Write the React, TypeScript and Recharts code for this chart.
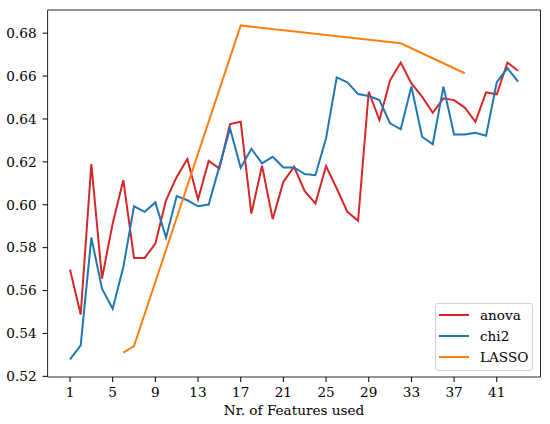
import React from 'react';
import {
  LineChart,
  Line,
  XAxis,
  YAxis,
  Legend,
  ReferenceArea,
} from 'recharts';

const features = [
  1, 2, 3, 4, 5, 6, 7, 8, 9, 10, 11, 12, 13, 14, 15, 16, 17, 18, 19, 20, 21, 22,
  23, 24, 25, 26, 27, 28, 29, 30, 31, 32, 33, 34, 35, 36, 37, 38, 39, 40, 41, 42, 43,
];

const anova = [
  0.5698, 0.5488, 0.619, 0.5656, 0.5913, 0.6115, 0.5752, 0.5752, 0.5819, 0.6021,
  0.613, 0.6213, 0.6025, 0.6204, 0.6169, 0.6376, 0.6387, 0.5959, 0.6182, 0.5933,
  0.6107, 0.6177, 0.6063, 0.6006, 0.618, 0.6076, 0.5967, 0.5925, 0.6527, 0.6395,
  0.658, 0.6663, 0.6566, 0.6504, 0.6429, 0.6496, 0.6488, 0.6453, 0.6387, 0.6524,
  0.6515, 0.6663, 0.6625,
];

const chi2 = [
  0.5279, 0.5344, 0.5847, 0.5609, 0.5515, 0.571, 0.5993, 0.5967, 0.6011, 0.5847,
  0.604, 0.6021, 0.5993, 0.6001, 0.6179, 0.6356, 0.6172, 0.6261, 0.6193, 0.6224,
  0.6174, 0.6174, 0.6143, 0.6138, 0.631, 0.6594, 0.6571, 0.6516, 0.6507, 0.6488,
  0.638, 0.6352, 0.6551, 0.6317, 0.6282, 0.6551, 0.6328, 0.6328, 0.6336, 0.6322,
  0.6571, 0.6637, 0.6574,
];

const lassoFeatures = [6, 7, 17, 32, 38];
const lasso = [0.5311, 0.5341, 0.6836, 0.6753, 0.6613];

const xTicks = [1, 5, 9, 13, 17, 21, 25, 29, 33, 37, 41];
const yTicks = [0.52, 0.54, 0.56, 0.58, 0.6, 0.62, 0.64, 0.66, 0.68];

const X_DOMAIN: [number, number] = [-1.1, 45.1];
const Y_DOMAIN: [number, number] = [0.5197, 0.6908];

const FONT = '"DejaVu Serif", serif';
const FONT_SIZE = 13.6;

const series = [
  { key: 'anova', name: 'anova', color: '#d62728' },
  { key: 'chi2', name: 'chi2', color: '#1f77b4' },
  { key: 'lasso', name: 'LASSO', color: '#ff7f0e' },
];

interface Row {
  x: number;
  anova: number;
  chi2: number;
  lasso?: number;
}

const data: Row[] = features.map((x, i) => {
  const li = lassoFeatures.indexOf(x);
  return {
    x,
    anova: anova[i],
    chi2: chi2[i],
    lasso: li >= 0 ? lasso[li] : undefined,
  };
});

function LegendBox() {
  return (
    <div
      style={{
        width: 98,
        boxSizing: 'border-box',
        border: '1px solid #d0d0d0',
        borderRadius: 3,
        background: 'rgba(255,255,255,0.8)',
        padding: '1px 0 3px 3px',
        fontFamily: FONT,
        fontSize: FONT_SIZE,
        color: '#000',
      }}
    >
      {series.map((s) => (
        <div key={s.key} style={{ display: 'flex', alignItems: 'center', height: 20.8 }}>
          <div style={{ width: 30, height: 2, background: s.color, marginRight: 11 }} />
          <span>{s.name}</span>
        </div>
      ))}
    </div>
  );
}

export default function App() {
  return (
    <div style={{ position: 'absolute', left: 0, top: 0, width: 550, height: 424, background: '#fff' }}>
      <LineChart width={550} height={424} data={data} margin={{ top: 10, right: 9.5, bottom: 0, left: 0 }}>
        <ReferenceArea
          x1={X_DOMAIN[0]}
          x2={X_DOMAIN[1]}
          y1={Y_DOMAIN[0]}
          y2={Y_DOMAIN[1]}
          fill="none"
          fillOpacity={0}
          stroke="#000"
          strokeWidth={1}
          strokeOpacity={0.85}
        />
        <XAxis
          dataKey="x"
          type="number"
          domain={X_DOMAIN}
          allowDataOverflow
          ticks={xTicks}
          interval={0}
          height={47}
          axisLine={false}
          tickSize={5}
          tickMargin={5}
          tickLine={{ stroke: '#000' }}
          tick={{ fill: '#000', fontSize: FONT_SIZE, fontFamily: FONT }}
          label={{
            value: 'Nr. of Features used',
            position: 'insideBottom',
            offset: 9,
            fill: '#000',
            fontSize: FONT_SIZE,
            fontFamily: FONT,
          }}
        />
        <YAxis
          type="number"
          domain={Y_DOMAIN}
          allowDataOverflow
          ticks={yTicks}
          interval={0}
          width={47.6}
          axisLine={false}
          tickSize={5}
          tickMargin={6}
          tickLine={{ stroke: '#000' }}
          tick={{ fill: '#000', fontSize: FONT_SIZE, fontFamily: FONT }}
          tickFormatter={(v: number) => v.toFixed(2)}
        />
        <Legend
          layout="horizontal"
          verticalAlign="middle"
          align="center"
          content={() => <LegendBox />}
          wrapperStyle={{ position: 'absolute', left: 435, top: 302.7, width: 98, height: 'auto' }}
        />
        {series.map((s) => (
          <Line
            key={s.key}
            dataKey={s.key}
            name={s.name}
            stroke={s.color}
            strokeWidth={2}
            dot={false}
            activeDot={false}
            type="linear"
            connectNulls
            isAnimationActive={false}
          />
        ))}
      </LineChart>
    </div>
  );
}
